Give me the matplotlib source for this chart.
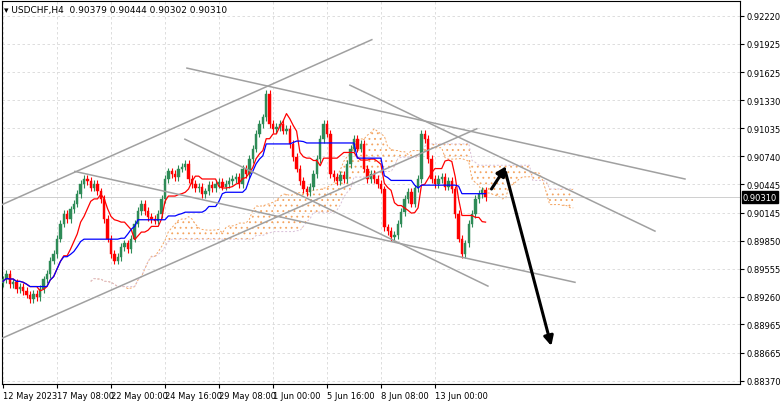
import numpy as np
import matplotlib.pyplot as plt

closes = [0.8944,0.8950,0.8939,0.8941,0.8934,0.8936,
          0.8932,0.8928,0.8923,0.8929,0.8925,0.8934,
          0.8944,0.8950,0.8964,0.8971,0.8987,0.9003,
          0.9013,0.9008,0.9018,0.9024,0.9034,0.9045,
          0.9050,0.9048,0.9041,0.9045,0.9037,0.9029,
          0.9008,0.8987,0.8971,0.8964,0.8968,0.8978,
          0.8982,0.8976,0.8987,0.9003,0.9016,0.9024,
          0.9016,0.9010,0.9008,0.9006,0.9013,0.9029,
          0.9050,0.9058,0.9055,0.9052,0.9061,0.9063,
          0.9066,0.9050,0.9045,0.9040,0.9042,0.9034,
          0.9037,0.9044,0.9040,0.9045,0.9047,0.9042,
          0.9045,0.9048,0.9050,0.9052,0.9045,0.9061,
          0.9055,0.9071,0.9082,0.9098,0.9108,0.9115,
          0.9140,0.9108,0.9103,0.9105,0.9108,0.9101,
          0.9103,0.9087,0.9073,0.9061,0.9048,0.9039,
          0.9036,0.9042,0.9055,0.9071,0.9092,0.9108,
          0.9098,0.9055,0.9052,0.9048,0.9054,0.9050,
          0.9066,0.9082,0.9092,0.9082,0.9087,0.9061,
          0.9050,0.9055,0.9050,0.9045,0.9039,0.8999,
          0.8995,0.8989,0.8991,0.9003,0.9015,0.9029,
          0.9036,0.9024,0.9040,0.9050,0.9098,0.9092,
          0.9071,0.9050,0.9045,0.9050,0.9052,0.9042,
          0.9048,0.9039,0.9013,0.8987,0.8971,0.8982,
          0.9003,0.9013,0.9029,0.9034,0.9038,0.9031]
first_open = 0.8940
wick = 0.0004

yticks = [0.92220,0.91925,0.91625,0.91330,0.91035,0.90740,0.90445,0.90145,
          0.89850,0.89555,0.89260,0.88965,0.88665,0.88370]
xtick_bars = [0,16,32,48,64,80,96,112,128]
xtick_labels = ['12 May 2023','17 May 08:00','22 May 00:00','24 May 16:00','29 May 08:00',
                '1 Jun 00:00','5 Jun 16:00','8 Jun 08:00','13 Jun 00:00']

# trend lines: (bar0, price0, bar1, price1)
trend_lines = [(-0.9,0.9022,109.3,0.9197),
               (-0.9,0.8881,140.4,0.9103),
               (54.5,0.9167,202.1,0.9050),
               (21.3,0.9058,169.5,0.8941),
               (53.9,0.9092,143.7,0.8937),
               (102.8,0.9149,193.2,0.8995)]
arrows = [(144.3,0.9037,149.6,0.9066),(148.7,0.9060,162.7,0.8871)]

opens = [first_open] + closes[:-1]
n = len(closes)
o = np.array(opens); c = np.array(closes)
h = np.maximum(o, c) + wick
l = np.minimum(o, c) - wick
x = np.arange(n)

def mid(period):
    out = np.full(n, np.nan)
    for i in range(n):
        s = max(0, i - period + 1)
        out[i] = (h[s:i+1].max() + l[s:i+1].min()) / 2
    return out

tenkan = mid(9)
kijun = mid(26)
spanA = (tenkan + kijun) / 2
spanB = mid(52)
xs = x + 26

plt.rcParams['hatch.linewidth'] = 0.6
fig = plt.figure(figsize=(7.82, 4.02), dpi=100)
ax = fig.add_axes([2/782, 17/402, 738/782, 383/402])
ax.set_xlim(-0.3, 218.4)
ax.set_ylim(0.88337, 0.92378)

for yt in yticks:
    ax.axhline(yt, color='#d8d8d8', lw=0.6, ls=(0, (3, 3)), zorder=0)
for xb in xtick_bars:
    ax.axvline(xb, color='#d8d8d8', lw=0.6, ls=(0, (3, 3)), zorder=0)

ax.fill_between(xs, spanA, spanB, facecolor='none', edgecolor='#f4a460',
                hatch='...', lw=0, zorder=1)
ax.plot(xs, spanA, color='#f4a460', lw=0.7, ls=(0, (2, 2)), zorder=1)
ax.plot(xs, spanB, color='#d8bfd8', lw=0.7, ls=(0, (2, 2)), zorder=1)

for i in range(n):
    col = '#2e8b57' if c[i] >= o[i] else '#ff0000'
    ax.vlines(x[i], l[i], h[i], color=col, lw=0.8, zorder=3)
    ax.bar(x[i], max(abs(c[i] - o[i]), 0.00005), bottom=min(o[i], c[i]),
           width=0.7, color=col, edgecolor=col, lw=0.3, zorder=3)

ax.plot(x, tenkan, color='#ff0000', lw=0.9, zorder=4)
ax.plot(x, kijun, color='#0000ff', lw=0.9, zorder=4)

for b0, p0, b1, p1 in trend_lines:
    ax.plot([b0, b1], [p0, p1], color='#a0a0a0', lw=1.1, zorder=5)
for b0, p0, b1, p1 in arrows:
    ax.annotate('', xy=(b1, p1), xytext=(b0, p0),
                arrowprops=dict(arrowstyle='-|>', color='black', lw=2.2,
                                mutation_scale=14), zorder=6)

ax.axhline(closes[-1], color='#c8c8c8', lw=0.6, zorder=2)

ax.yaxis.tick_right()
ax.set_yticks(yticks)
ax.set_yticklabels(['%.5f' % v for v in yticks], fontsize=6)
ax.set_xticks(xtick_bars)
ax.set_xticklabels(xtick_labels, fontsize=6, ha='left')
ax.tick_params(length=3, pad=2, colors='black')
for s in ax.spines.values():
    s.set_linewidth(0.8)
ax.text(1.004, closes[-1], '%.5f' % closes[-1], transform=ax.get_yaxis_transform(),
        fontsize=6, color='white', va='center', ha='left',
        bbox=dict(boxstyle='square,pad=0.15', fc='black', ec='black'))
ax.text(0.003, 0.99, '\u25be USDCHF,H4  0.90379 0.90444 0.90302 0.90310',
        transform=ax.transAxes, fontsize=6.5, va='top', ha='left')

fig.savefig('out.png', dpi=100)
